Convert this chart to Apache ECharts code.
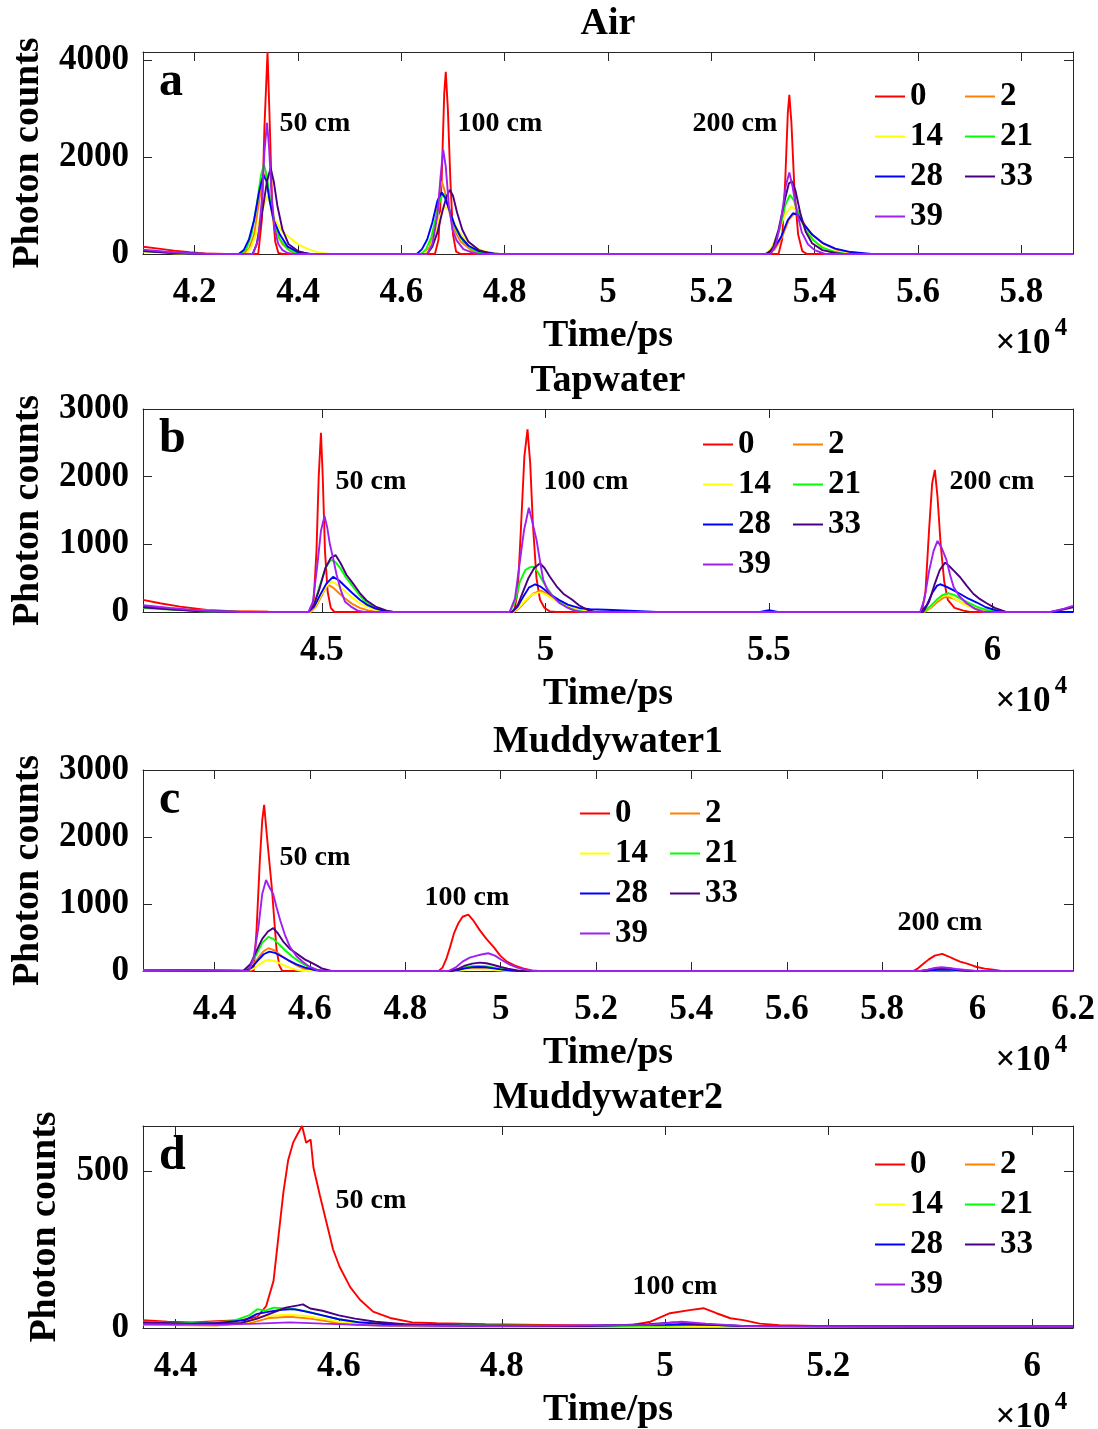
<!DOCTYPE html>
<html>
<head>
<meta charset="utf-8">
<script src="https://cdn.jsdelivr.net/npm/echarts@6/dist/echarts.min.js"></script>
<style>
html,body{margin:0;padding:0;background:#fff}
#chart{width:1098px;height:1429px}
</style>
</head>
<body>
<div id="chart"></div>
<script>
// Legend entries (attenuation settings) and their line colours
const seriesNames = ['0', '2', '14', '21', '28', '33', '39'];
const seriesColors = ['#ff0000', '#ff8000', '#ffff00', '#00ff00', '#0000ff', '#4b0082', '#a020f0'];
// the legend is laid out in two columns
const legendLeftColumn = ['0', '14', '28', '39'];
const legendRightColumn = ['2', '21', '33'];

// ---------- Air ----------
const airXTicks = [42000, 44000, 46000, 48000, 50000, 52000, 54000, 56000, 58000];
const airXLabels = ['4.2', '4.4', '4.6', '4.8', '5', '5.2', '5.4', '5.6', '5.8'];
const airYTicks = [0, 2000, 4000];
const air0 = [[41000,150],[41300,110],[41600,70],[41900,35],[42200,10],[42600,0],[43230,0],[43300,700],[43350,2600],[43410,4160],[43450,2800],[43500,1000],[43560,250],[43620,20],[43700,0],[46650,0],[46720,300],[46780,1500],[46830,3300],[46860,3750],[46900,3000],[46950,1500],[47000,400],[47060,50],[47150,0],[53300,0],[53370,300],[53430,1500],[53480,2900],[53510,3280],[53550,2700],[53610,1300],[53680,400],[53760,60],[53850,0],[59000,0]];
const air2 = [[41000,60],[41600,20],[42200,0],[42950,0],[43050,100],[43150,400],[43250,1100],[43330,1600],[43370,1650],[43430,1300],[43500,800],[43600,400],[43700,200],[43850,60],[44000,0],[46450,0],[46550,150],[46650,600],[46730,1200],[46780,1500],[46840,1300],[46920,900],[47020,500],[47150,250],[47350,80],[47500,0],[53100,0],[53230,100],[53370,350],[53500,700],[53600,830],[53700,780],[53820,580],[53970,380],[54170,210],[54420,90],[54700,30],[55000,0],[59000,0]];
const air14 = [[41000,50],[41600,15],[42200,0],[43000,0],[43100,150],[43200,450],[43300,900],[43410,1200],[43480,1000],[43560,700],[43700,450],[43850,330],[44000,200],[44200,100],[44400,30],[44600,0],[46450,0],[46550,100],[46650,400],[46750,800],[46840,980],[46920,900],[47000,700],[47120,450],[47250,280],[47450,120],[47700,30],[47900,0],[53050,0],[53150,100],[53280,400],[53420,800],[53550,980],[53640,900],[53750,650],[53880,420],[54050,220],[54250,90],[54500,20],[54700,0],[59000,0]];
const air21 = [[41000,60],[41600,20],[42200,0],[42900,0],[43000,100],[43100,400],[43200,1000],[43280,1600],[43340,1850],[43400,1600],[43460,1100],[43550,600],[43650,300],[43800,100],[43950,30],[44100,0],[46380,0],[46480,100],[46580,350],[46680,800],[46760,1150],[46810,1240],[46880,1100],[46960,800],[47060,500],[47200,250],[47400,80],[47600,0],[53100,0],[53200,150],[53320,500],[53430,1000],[53520,1220],[53600,1100],[53700,800],[53820,500],[53960,300],[54150,130],[54400,40],[54600,0],[59000,0]];
const air28 = [[41000,70],[41600,25],[42200,0],[42850,0],[42950,80],[43050,300],[43150,700],[43250,1300],[43330,1630],[43390,1500],[43450,1100],[43530,700],[43650,400],[43800,150],[44000,40],[44250,0],[46300,0],[46400,100],[46500,300],[46600,650],[46700,1100],[46780,1270],[46850,1150],[46930,900],[47030,600],[47150,350],[47300,170],[47500,60],[47800,10],[47900,0],[53050,0],[53200,100],[53350,350],[53480,700],[53580,840],[53680,800],[53800,600],[53950,400],[54150,230],[54400,110],[54700,40],[55100,0],[59000,0]];
const air33 = [[41000,60],[41600,20],[42200,0],[43120,0],[43200,200],[43300,800],[43400,1500],[43470,1770],[43530,1500],[43600,1000],[43700,500],[43820,200],[44000,60],[44200,0],[46500,0],[46600,150],[46700,450],[46800,900],[46880,1200],[46940,1320],[47000,1200],[47080,850],[47180,500],[47300,250],[47500,80],[47750,0],[53100,0],[53200,150],[53300,500],[53420,1100],[53500,1450],[53560,1500],[53630,1300],[53720,850],[53830,450],[53950,220],[54150,80],[54400,20],[54550,0],[59000,0]];
const air39 = [[41000,90],[41500,40],[42000,10],[42400,0],[43130,0],[43230,300],[43300,1100],[43350,2100],[43400,2700],[43440,2200],[43490,1200],[43550,500],[43620,200],[43700,80],[43800,20],[43900,0],[46500,0],[46600,200],[46700,800],[46760,1600],[46810,2150],[46860,1800],[46920,1000],[46990,500],[47070,280],[47200,100],[47400,20],[47500,0],[53150,0],[53250,200],[53350,700],[53440,1400],[53510,1680],[53570,1400],[53650,900],[53750,450],[53870,200],[54000,80],[54200,0],[59000,0]];

// ---------- Tapwater ----------
const tapXTicks = [45000, 50000, 55000, 60000];
const tapXLabels = ['4.5', '5', '5.5', '6'];
const tapYTicks = [0, 1000, 2000, 3000];
const tap0 = [[41000,180],[41380,130],[41830,80],[42430,30],[43000,12],[43800,5],[44750,0],[44820,200],[44880,900],[44930,2000],[44980,2650],[45020,2000],[45070,900],[45130,300],[45200,60],[45280,0],[49300,0],[49380,300],[49450,1200],[49530,2300],[49600,2700],[49660,2200],[49720,1300],[49800,500],[49880,180],[49980,60],[50100,10],[50250,0],[58420,0],[58500,300],[58580,1200],[58650,1900],[58710,2100],[58770,1700],[58840,1000],[58920,450],[59000,180],[59150,60],[59350,20],[59500,0],[61800,0]];
const tap2 = [[41000,90],[41500,60],[42200,25],[43000,8],[44000,0],[44750,0],[44870,80],[44980,220],[45080,350],[45150,400],[45250,360],[45380,280],[45520,200],[45680,120],[45850,60],[46050,20],[46250,0],[49280,0],[49420,60],[49570,170],[49720,270],[49900,315],[50020,280],[50170,210],[50330,140],[50500,80],[50700,35],[50950,10],[51100,0],[58480,0],[58620,60],[58770,150],[58900,210],[58990,225],[59120,200],[59280,150],[59460,90],[59660,40],[59900,0],[61800,0]];
const tap14 = [[41000,70],[41600,40],[42300,15],[43200,0],[44720,0],[44850,80],[44980,250],[45100,380],[45220,450],[45350,400],[45500,320],[45650,230],[45800,150],[46000,80],[46200,30],[46400,0],[49250,0],[49400,60],[49550,170],[49700,260],[49880,290],[50000,260],[50150,200],[50320,140],[50500,80],[50700,40],[50950,10],[51100,0],[58450,0],[58600,70],[58750,170],[58870,230],[58940,250],[59050,240],[59200,180],[59380,110],[59580,50],[59800,10],[60000,0],[61800,0]];
const tap21 = [[41000,60],[41600,35],[42300,12],[43200,0],[44700,0],[44820,100],[44950,380],[45080,650],[45200,770],[45300,740],[45420,640],[45550,500],[45700,370],[45850,240],[46000,140],[46200,60],[46450,10],[46600,0],[49200,0],[49320,150],[49430,450],[49550,620],[49650,660],[49730,670],[49820,600],[49920,480],[50030,360],[50150,250],[50300,150],[50450,80],[50650,30],[50850,0],[58450,0],[58600,80],[58750,180],[58880,250],[59010,280],[59150,250],[59300,190],[59480,130],[59680,70],[59900,25],[60100,0],[61800,0]];
const tap28 = [[41000,80],[41600,45],[42300,15],[43200,0],[44700,0],[44830,80],[44960,250],[45100,420],[45250,520],[45380,470],[45520,380],[45680,280],[45850,180],[46000,110],[46200,50],[46450,10],[46600,0],[49250,0],[49380,80],[49500,220],[49630,360],[49770,410],[49880,380],[50000,320],[50130,250],[50300,180],[50500,110],[50750,60],[51000,40],[51500,30],[52000,15],[52500,0],[54800,0],[55000,25],[55200,0],[58400,0],[58530,100],[58650,280],[58760,390],[58830,410],[58950,380],[59100,330],[59270,270],[59450,200],[59650,140],[59850,70],[60100,20],[60300,0],[61800,0]];
const tap33 = [[41000,70],[41600,40],[42300,15],[43200,0],[44700,0],[44820,100],[44950,350],[45080,650],[45200,800],[45310,840],[45420,720],[45550,550],[45700,420],[45850,280],[46000,170],[46200,80],[46450,20],[46600,0],[49250,0],[49380,100],[49500,300],[49620,500],[49750,650],[49880,720],[49980,650],[50100,520],[50250,380],[50400,270],[50600,180],[50750,100],[50950,30],[51100,0],[58450,0],[58580,150],[58700,400],[58820,620],[58940,730],[59030,680],[59150,600],[59280,510],[59420,390],[59570,270],[59720,190],[59870,130],[60050,60],[60300,0],[61300,0],[61600,40],[61800,70]];
const tap39 = [[41000,100],[41600,60],[42300,20],[43200,0],[44700,0],[44800,150],[44900,700],[44980,1200],[45060,1420],[45120,1250],[45180,1000],[45250,800],[45330,550],[45420,330],[45520,150],[45650,80],[45800,20],[45950,0],[49200,0],[49320,200],[49420,700],[49520,1200],[49630,1540],[49700,1350],[49800,1070],[49880,750],[49950,480],[50050,320],[50180,220],[50320,130],[50480,70],[50650,20],[50800,0],[58380,0],[58480,200],[58580,600],[58680,900],[58770,1050],[58860,950],[58970,770],[59050,550],[59130,370],[59250,240],[59420,130],[59600,50],[59800,0],[61300,0],[61600,50],[61800,90]];

// ---------- Muddywater1 ----------
const mud1XTicks = [44000, 46000, 48000, 50000, 52000, 54000, 56000, 58000, 60000, 62000];
const mud1XLabels = ['4.4', '4.6', '4.8', '5', '5.2', '5.4', '5.6', '5.8', '6', '6.2'];
const mud1YTicks = [0, 1000, 2000, 3000];
const mud1_0 = [[42500,15],[43500,10],[44500,8],[44820,0],[44880,600],[44950,1650],[45000,2250],[45040,2480],[45100,2000],[45200,1250],[45300,320],[45360,80],[45420,0],[48700,0],[48780,50],[48860,180],[48940,360],[49020,560],[49110,710],[49200,810],[49320,840],[49420,760],[49560,610],[49700,480],[49850,360],[49990,230],[50130,140],[50300,80],[50470,40],[50650,10],[50800,0],[58650,0],[58750,40],[58850,100],[58970,170],[59100,230],[59260,255],[59380,220],[59500,180],[59630,140],[59780,110],[59900,80],[59980,60],[60150,35],[60330,20],[60500,0],[62000,0]];
const mud1_2 = [[42500,10],[44650,0],[44780,60],[44900,180],[45020,290],[45130,340],[45250,310],[45380,240],[45520,170],[45680,100],[45850,40],[46050,0],[49000,0],[49150,15],[49300,35],[49450,42],[49600,40],[49780,30],[49950,18],[50150,5],[50300,0],[58900,0],[59100,10],[59300,15],[59500,10],[59700,0],[62000,0]];
const mud1_14 = [[42500,10],[44700,0],[44830,40],[44960,110],[45060,150],[45130,165],[45250,150],[45380,110],[45530,60],[45700,20],[45850,0],[49000,0],[49200,12],[49400,25],[49600,25],[49800,18],[50000,8],[50200,0],[58900,0],[59200,12],[59400,10],[59700,0],[62000,0]];
const mud1_21 = [[42500,12],[44600,0],[44750,80],[44880,250],[45000,420],[45130,510],[45230,480],[45350,400],[45480,310],[45620,220],[45780,140],[45950,70],[46150,20],[46350,0],[48950,0],[49100,20],[49250,55],[49400,70],[49520,75],[49680,70],[49850,50],[50000,30],[50200,10],[50400,0],[58850,0],[59050,15],[59250,25],[59450,20],[59650,8],[59850,0],[62000,0]];
const mud1_28 = [[42500,12],[44650,0],[44780,50],[44900,150],[45030,250],[45150,290],[45270,270],[45400,220],[45550,160],[45720,100],[45900,50],[46100,15],[46300,0],[48950,0],[49100,15],[49250,40],[49400,55],[49550,60],[49700,55],[49850,40],[50000,25],[50200,8],[50400,0],[58850,0],[59050,12],[59250,22],[59450,18],[59650,6],[59850,0],[62000,0]];
const mud1_33 = [[42500,15],[44600,0],[44750,100],[44880,300],[45000,480],[45120,590],[45230,640],[45330,560],[45450,430],[45580,330],[45720,260],[45900,170],[46070,110],[46250,40],[46450,0],[48950,0],[49100,30],[49250,80],[49400,110],[49560,125],[49700,115],[49850,90],[50000,60],[50150,35],[50350,10],[50500,0],[58800,0],[58950,15],[59100,35],[59250,42],[59400,38],[59550,25],[59750,10],[59950,0],[62000,0]];
const mud1_39 = [[42500,15],[44720,0],[44820,200],[44920,650],[45000,1150],[45080,1360],[45150,1250],[45230,1150],[45300,950],[45380,750],[45480,530],[45580,360],[45720,220],[45860,130],[46000,60],[46200,0],[48900,0],[49050,50],[49200,140],[49350,200],[49500,230],[49620,250],[49740,265],[49880,230],[50030,160],[50180,100],[50350,50],[50550,15],[50700,0],[58800,0],[58950,20],[59100,45],[59250,55],[59400,45],[59550,30],[59750,15],[59950,0],[62000,0]];

// ---------- Muddywater2 ----------
const mud2XTicks = [44000, 46000, 48000, 50000, 52000, 54500];
const mud2XLabels = ['4.4', '4.6', '4.8', '5', '5.2', '6'];
const mud2YTicks = [0, 500];
const mud2_0 = [[43600,25],[43900,20],[44200,18],[44500,22],[44800,25],[45000,35],[45110,70],[45200,150],[45260,290],[45320,430],[45380,535],[45440,590],[45500,620],[45550,643],[45600,590],[45655,600],[45690,510],[45770,420],[45850,335],[45930,250],[46010,195],[46140,130],[46260,90],[46420,52],[46630,32],[46900,18],[47200,15],[47800,12],[48500,10],[49200,8],[49600,10],[49820,20],[50060,47],[50300,57],[50470,63],[50630,47],[50800,31],[50960,25],[51160,14],[51400,9],[52000,6],[53000,6],[54000,6],[55000,6]];
const mud2_2 = [[43600,10],[44500,8],[44950,18],[45150,32],[45400,36],[45650,30],[45900,20],[46200,10],[47000,5],[55000,3]];
const mud2_14 = [[43600,12],[44500,10],[44900,20],[45050,35],[45200,40],[45400,42],[45600,38],[45800,30],[46000,20],[46300,12],[47000,6],[55000,3]];
const mud2_21 = [[43600,20],[44000,15],[44400,18],[44700,22],[44900,40],[45000,60],[45100,55],[45200,65],[45350,62],[45500,58],[45650,50],[45800,40],[46000,28],[46200,20],[46500,14],[47000,10],[48000,8],[49000,6],[50000,8],[50500,10],[51000,6],[52000,5],[55000,4]];
const mud2_28 = [[43600,15],[44000,12],[44500,15],[44850,25],[45000,45],[45150,52],[45300,58],[45450,60],[45600,52],[45800,40],[46000,28],[46250,18],[46600,12],[47200,8],[48500,6],[50000,10],[50400,12],[51000,6],[55000,4]];
const mud2_33 = [[43600,18],[44200,14],[44800,16],[45000,30],[45200,50],[45350,65],[45500,72],[45560,75],[45650,62],[45800,55],[46000,40],[46200,30],[46450,20],[46800,12],[47500,8],[49000,6],[49800,12],[50100,18],[50400,12],[51000,6],[55000,4]];
const mud2_39 = [[43600,12],[44500,10],[45000,14],[45400,18],[45800,14],[46500,8],[48000,6],[49800,10],[50200,20],[50500,14],[51000,6],[55000,4]];

// ---------- layout of the four stacked panels ----------
const FONT = '"Liberation Serif", "Times New Roman", serif';
const INK = '#000';
const AXIS = '#262626';
const PLOT_LEFT = 143, PLOT_WIDTH = 930;

const panels = [
  { title: 'Air', letter: 'a', top: 52, height: 202, xMin: 41000, xMax: 59000, yMax: 4160,
    xTicks: airXTicks, xLabels: airXLabels, yTicks: airYTicks,
    lines: [air0, air2, air14, air21, air28, air33, air39],
    legendLeft: 875, legendTop: 80, yNameX: 28,
    notes: [['50 cm', 315, 124], ['100 cm', 500, 124], ['200 cm', 735, 124]] },
  { title: 'Tapwater', letter: 'b', top: 409, height: 203, xMin: 41000, xMax: 61800, yMax: 3000,
    xTicks: tapXTicks, xLabels: tapXLabels, yTicks: tapYTicks,
    lines: [tap0, tap2, tap14, tap21, tap28, tap33, tap39],
    legendLeft: 703, legendTop: 428, yNameX: 28,
    notes: [['50 cm', 371, 482], ['100 cm', 586, 482], ['200 cm', 992, 482]] },
  { title: 'Muddywater1', letter: 'c', top: 770, height: 201, xMin: 42500, xMax: 62000, yMax: 3000,
    xTicks: mud1XTicks, xLabels: mud1XLabels, yTicks: mud1YTicks,
    lines: [mud1_0, mud1_2, mud1_14, mud1_21, mud1_28, mud1_33, mud1_39],
    legendLeft: 580, legendTop: 797, yNameX: 28,
    notes: [['50 cm', 315, 858], ['100 cm', 467, 898], ['200 cm', 940, 923]] },
  { title: 'Muddywater2', letter: 'd', top: 1126, height: 202, xMin: 43600, xMax: 55000, yMax: 643,
    xTicks: mud2XTicks, xLabels: mud2XLabels, yTicks: mud2YTicks,
    lines: [mud2_0, mud2_2, mud2_14, mud2_21, mud2_28, mud2_33, mud2_39],
    legendLeft: 875, legendTop: 1148, yNameX: 45,
    notes: [['50 cm', 371, 1201], ['100 cm', 675, 1287]] }
];

function label(x, y, text, size, extra) {
  return Object.assign({
    type: 'text', x: x, y: y, silent: true,
    style: { text: text, fontFamily: FONT, fontWeight: 'bold', fontSize: size, fill: INK,
             align: 'center', verticalAlign: 'middle' }
  }, extra || {});
}

const option = {
  animation: false,
  backgroundColor: '#fff',
  grid: [], xAxis: [], yAxis: [], series: [], legend: [], graphic: []
};

panels.forEach((p, i) => {
  option.grid.push({ left: PLOT_LEFT, width: PLOT_WIDTH, top: p.top, height: p.height, show: false });

  const line = { show: true, onZero: false, lineStyle: { color: AXIS, width: 1 } };
  const tick = (vals) => ({ show: true, inside: true, length: 9, customValues: vals, lineStyle: { color: AXIS, width: 1 } });
  const tickText = { fontFamily: FONT, fontWeight: 'bold', fontSize: 35, color: INK };

  option.xAxis.push({
    type: 'value', gridIndex: i, position: 'bottom', min: p.xMin, max: p.xMax,
    axisLine: line, axisTick: tick(p.xTicks), splitLine: { show: false },
    axisLabel: Object.assign({ margin: 21, customValues: p.xTicks,
      formatter: (v) => p.xLabels[p.xTicks.indexOf(v)] }, tickText)
  });
  option.xAxis.push({
    type: 'value', gridIndex: i, position: 'top', min: p.xMin, max: p.xMax,
    axisLine: line, axisTick: tick(p.xTicks), splitLine: { show: false }, axisLabel: { show: false }
  });
  option.yAxis.push({
    type: 'value', gridIndex: i, position: 'left', min: 0, max: p.yMax,
    axisLine: line, axisTick: tick(p.yTicks), splitLine: { show: false },
    axisLabel: Object.assign({ margin: 14, customValues: p.yTicks, formatter: (v) => String(v) }, tickText)
  });
  option.yAxis.push({
    type: 'value', gridIndex: i, position: 'right', min: 0, max: p.yMax,
    axisLine: line, axisTick: tick(p.yTicks), splitLine: { show: false }, axisLabel: { show: false }
  });

  p.lines.forEach((pts, k) => {
    option.series.push({
      type: 'line', name: seriesNames[k], xAxisIndex: 2 * i, yAxisIndex: 2 * i,
      data: pts, symbol: 'none', silent: true,
      lineStyle: { width: 1.9, color: seriesColors[k] }, itemStyle: { color: seriesColors[k] }
    });
  });

  [legendLeftColumn, legendRightColumn].forEach((col, c) => {
    option.legend.push({
      data: col, left: p.legendLeft + c * 90, top: p.legendTop, orient: 'vertical',
      padding: 0, itemWidth: 30, itemHeight: 2, itemGap: 7, icon: 'rect',
      selectedMode: false,
      textStyle: { fontFamily: FONT, fontWeight: 'bold', fontSize: 33, color: INK }
    });
  });

  const midX = PLOT_LEFT + PLOT_WIDTH / 2;
  const bottom = p.top + p.height;
  option.graphic.push(label(midX, p.top - 28, p.title, 38));
  option.graphic.push(label(midX, bottom + 82, 'Time/ps', 38));
  option.graphic.push(label(1023, bottom + 90, '\u00d710', 35));
  option.graphic.push(label(1061, bottom + 75, '4', 25));
  option.graphic.push(label(p.yNameX, p.top + p.height / 2, 'Photon counts', 38, { rotation: Math.PI / 2 }));
  const letter = label(159, p.top + 31, p.letter, 48);
  letter.style.align = 'left';
  option.graphic.push(letter);
  p.notes.forEach(([t, x, y]) => option.graphic.push(label(x, y, t, 28)));
});

const chart = echarts.init(document.getElementById('chart'), null, { renderer: 'canvas' });
chart.setOption(option);
</script>
</body>
</html>
